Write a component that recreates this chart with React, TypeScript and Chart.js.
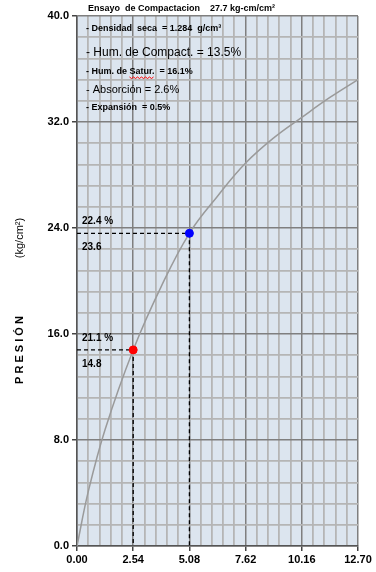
import React, { useEffect, useRef } from "react";
import { Chart, registerables } from "chart.js";

Chart.register(...registerables);

// ---- data ----
const curveX = [0, 0.508, 1.27, 2.54, 3.81, 5.08, 6.35, 7.62, 8.89, 10.16, 11.43, 12.7];
const curveY = [0, 4.1, 8.8, 14.8, 19.6, 23.6, 26.4, 28.9, 30.8, 32.35, 33.85, 35.2];

const markerX = [2.54, 5.08];
const markerY = [14.8, 23.6];
const markerPct = ["21.1 %", "22.4 %"];
const markerVal = ["14.8", "23.6"];
const markerColors = ["#ff0000", "#0000ff"];

const xMajorTicks = [0, 2.54, 5.08, 7.62, 10.16, 12.7];
const xMajorLabels = ["0.00", "2.54", "5.08", "7.62", "10.16", "12.70"];
const yMajorTicks = [0, 8, 16, 24, 32, 40];
const yMajorLabels = ["0.0", "8.0", "16.0", "24.0", "32.0", "40.0"];
const minorPerMajor = 5;

const titleText = "Ensayo  de Compactacion    27.7 kg-cm/cm²";
const infoLines = [
  "- Densidad  seca  = 1.284  g/cm³",
  "- Hum. de Compact. = 13.5%",
  "- Hum. de Satur.  = 16.1%",
  "- Absorción = 2.6%",
  "- Expansión  = 0.5%",
];
const yTitleMain = "P R E S I Ó N";
const yTitleUnit = "(kg/cm²)";

function subdivide(majors: number[], n: number): number[] {
  const out: number[] = [];
  for (let i = 0; i < majors.length - 1; i++) {
    for (let k = 0; k < n; k++) out.push(majors[i] + ((majors[i + 1] - majors[i]) * k) / n);
  }
  out.push(majors[majors.length - 1]);
  return out;
}

const xTicks = subdivide(xMajorTicks, minorPerMajor);
const yTicks = subdivide(yMajorTicks, minorPerMajor);

const MAJOR = "#7f7f7f";
const MINOR = "#b5b5b5";
const FONT = "'Liberation Sans', Arial, sans-serif";

export default function App() {
  const ref = useRef<HTMLCanvasElement | null>(null);

  useEffect(() => {
    document.body.style.margin = "0";
    const canvas = ref.current;
    if (!canvas) return;

    const decor = {
      id: "decor",
      beforeDraw(chart: any) {
        const { ctx, chartArea: a } = chart;
        ctx.save();
        ctx.fillStyle = "#dce5ef";
        ctx.fillRect(a.left, a.top, a.right - a.left, a.bottom - a.top);
        ctx.restore();
      },
      beforeDatasetsDraw(chart: any) {
        const { ctx, chartArea: a, scales } = chart;
        const xs = scales.x;
        const ys = scales.y;
        ctx.save();
        ctx.strokeStyle = "#000";
        ctx.lineWidth = 1.3;
        ctx.setLineDash([4, 3]);
        markerX.forEach((mx, i) => {
          const px = xs.getPixelForValue(mx);
          const py = ys.getPixelForValue(markerY[i]);
          ctx.beginPath();
          ctx.moveTo(a.left, py);
          ctx.lineTo(px, py);
          ctx.moveTo(px, py);
          ctx.lineTo(px, a.bottom);
          ctx.stroke();
        });
        ctx.setLineDash([]);
        ctx.fillStyle = "#000";
        ctx.textBaseline = "middle";
        ctx.textAlign = "left";
        ctx.font = `bold 10px ${FONT}`;
        markerX.forEach((mx, i) => {
          const py = ys.getPixelForValue(markerY[i]);
          ctx.fillText(markerPct[i], a.left + 5, py - 12);
          ctx.fillText(markerVal[i], a.left + 5, py + 14);
        });
        ctx.restore();
      },
      afterDraw(chart: any) {
        const { ctx, chartArea: a } = chart;
        ctx.save();
        ctx.fillStyle = "#000";
        ctx.textBaseline = "alphabetic";
        ctx.textAlign = "left";
        ctx.font = `bold 9px ${FONT}`;
        ctx.fillText(titleText, a.left + 11, 11);
        const fonts = [
          `bold 9px ${FONT}`,
          `12px ${FONT}`,
          `bold 9px ${FONT}`,
          `11px ${FONT}`,
          `bold 9px ${FONT}`,
        ];
        const ysPos = [29, 53, 72, 90, 108];
        infoLines.forEach((t, i) => {
          ctx.font = fonts[i];
          ctx.textBaseline = "middle";
          ctx.fillText(t, a.left + 9, ysPos[i]);
        });
        ctx.font = fonts[2];
        const pre = "- Hum. de ";
        const sx = a.left + 9 + ctx.measureText(pre).width;
        const sw = ctx.measureText("Satur.").width;
        ctx.strokeStyle = "#ff0000";
        ctx.lineWidth = 1;
        ctx.beginPath();
        for (let x = 0; x <= sw; x += 2) {
          const y = ysPos[2] + 5 + (Math.floor(x / 2) % 2 === 0 ? 0 : 1.5);
          if (x === 0) ctx.moveTo(sx + x, y);
          else ctx.lineTo(sx + x, y);
        }
        ctx.stroke();
        ctx.translate(20, 0);
        ctx.rotate(-Math.PI / 2);
        ctx.textAlign = "center";
        ctx.textBaseline = "middle";
        ctx.font = `bold 11px ${FONT}`;
        ctx.fillText(yTitleMain, -350, 0);
        ctx.font = `11px ${FONT}`;
        ctx.fillText(yTitleUnit, -238, 0);
        ctx.restore();
      },
    };

    const chart = new Chart(canvas, {
      type: "scatter",
      data: {
        datasets: [
          {
            data: markerX.map((x, i) => ({ x, y: markerY[i] })),
            pointBackgroundColor: markerColors,
            pointBorderColor: markerColors,
            pointRadius: 4,
            showLine: false,
            order: 0,
          },
          {
            data: curveX.map((x, i) => ({ x, y: curveY[i] })),
            borderColor: "#9a9a9a",
            borderWidth: 1.5,
            showLine: true,
            pointRadius: 0,
            tension: 0.4,
            order: 1,
          },
        ],
      },
      options: {
        responsive: false,
        animation: false,
        events: [],
        layout: { padding: { left: 0, right: 18, top: 16, bottom: 0 } },
        plugins: { legend: { display: false }, tooltip: { enabled: false }, title: { display: false } },
        scales: {
          x: {
            type: "linear",
            min: 0,
            max: 12.7,
            afterBuildTicks: (axis: any) => {
              axis.ticks = xTicks.map((v) => ({ value: v }));
            },
            afterFit: (axis: any) => {
              axis.height = 26;
            },
            ticks: {
              autoSkip: false,
              maxRotation: 0,
              padding: 2,
              color: "#000",
              font: { family: FONT, size: 11, weight: "bold" },
              callback: (_v: any, i: number) => (i % minorPerMajor === 0 ? xMajorLabels[i / minorPerMajor] : ""),
            },
            grid: {
              color: (c: any) => (c.index % minorPerMajor === 0 ? MAJOR : MINOR),
              lineWidth: (c: any) => (c.index % minorPerMajor === 0 ? 1.5 : 1.8),
              tickLength: 5,
              tickColor: (c: any) => (c.index % minorPerMajor === 0 ? "#444" : "rgba(0,0,0,0)"),
            },
            border: { color: "#555", width: 1.5 },
          },
          y: {
            type: "linear",
            min: 0,
            max: 40,
            afterBuildTicks: (axis: any) => {
              axis.ticks = yTicks.map((v) => ({ value: v }));
            },
            afterFit: (axis: any) => {
              axis.width = 77;
            },
            ticks: {
              autoSkip: false,
              padding: 3,
              color: "#000",
              font: { family: FONT, size: 11, weight: "bold" },
              callback: (_v: any, i: number) => (i % minorPerMajor === 0 ? yMajorLabels[i / minorPerMajor] : ""),
            },
            grid: {
              color: (c: any) => (c.index % minorPerMajor === 0 ? MAJOR : MINOR),
              lineWidth: (c: any) => (c.index % minorPerMajor === 0 ? 1.5 : 1.8),
              tickLength: 5,
              tickColor: (c: any) => (c.index % minorPerMajor === 0 ? "#444" : "rgba(0,0,0,0)"),
            },
            border: { color: "#555", width: 1.5 },
          },
        },
      } as any,
      plugins: [decor],
    });

    return () => chart.destroy();
  }, []);

  return (
    <div style={{ position: "absolute", left: 0, top: 0, width: 376, height: 572, background: "#fff" }}>
      <canvas ref={ref} width={376} height={572} style={{ display: "block" }} />
    </div>
  );
}
